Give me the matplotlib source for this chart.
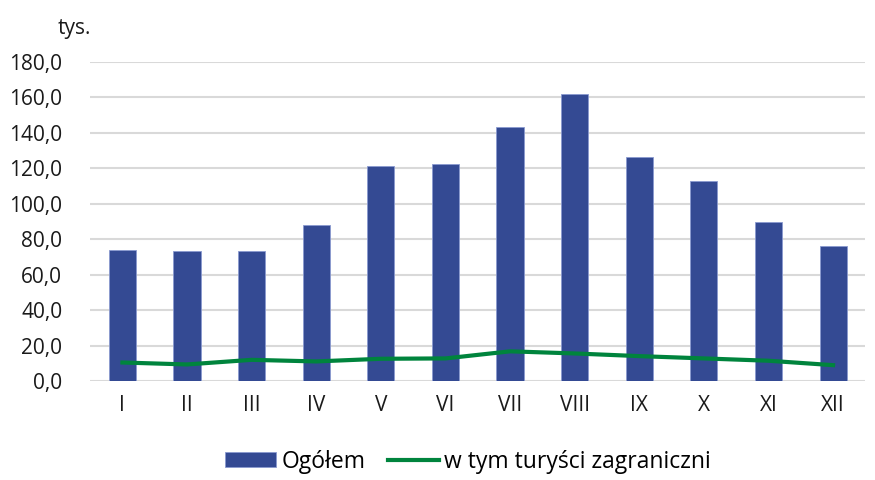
import numpy as np
import matplotlib
matplotlib.use("Agg")
from matplotlib import pyplot as plt

months = ['I', 'II', 'III', 'IV', 'V', 'VI', 'VII', 'VIII', 'IX', 'X', 'XI', 'XII']
ogolem = [73.9, 73.4, 73.4, 88.0, 121.3, 122.4, 143.1, 161.7, 126.4, 112.9, 89.7, 76.2]
zagraniczni = [10.5, 9.4, 12.0, 11.1, 12.6, 12.8, 16.8, 15.6, 14.1, 12.8, 11.5, 9.0]
yticks = [0, 20, 40, 60, 80, 100, 120, 140, 160, 180]

plt.rcParams['font.family'] = ['Open Sans', 'DejaVu Sans']

fig = plt.figure(figsize=(8.75, 4.8), dpi=100)
ax = fig.add_axes([0.103, 0.206, 0.886, 0.665])

x = np.arange(len(months))
bars = ax.bar(x, ogolem, width=0.42, color='#344a93', edgecolor='#8a9ad0', linewidth=0.6,
              label='Ogółem', zorder=2)
line, = ax.plot(x, zagraniczni, color='#00843d', linewidth=3,
                label='w tym turyści zagraniczni', zorder=3)

ax.set_ylim(0, 180)
ax.set_xlim(-0.5, len(months) - 0.5)
ax.set_yticks(yticks)
ax.set_yticklabels([f'{v:.1f}'.replace('.', ',') for v in yticks])
ax.set_xticks(x)
ax.set_xticklabels(months)
ax.tick_params(axis='both', length=0, labelsize=15, colors='#1a1a1a')
ax.tick_params(axis='x', pad=10)
ax.tick_params(axis='y', pad=20)
ax.grid(axis='y', color='#d9d9d9', linewidth=1.5, zorder=0)
ax.set_axisbelow(True)
for s in ax.spines.values():
    s.set_visible(False)

fig.text(0.066, 0.94, 'tys.', fontsize=15, color='#1a1a1a', va='center')

fig.legend(handles=[bars, line], loc='lower center', bbox_to_anchor=(0.535, -0.03), ncol=2,
           frameon=False, fontsize=16.5, handlelength=2.2, handleheight=0.6,
           handletextpad=0.25, columnspacing=1.0)

fig.savefig('out.png', dpi=100)
